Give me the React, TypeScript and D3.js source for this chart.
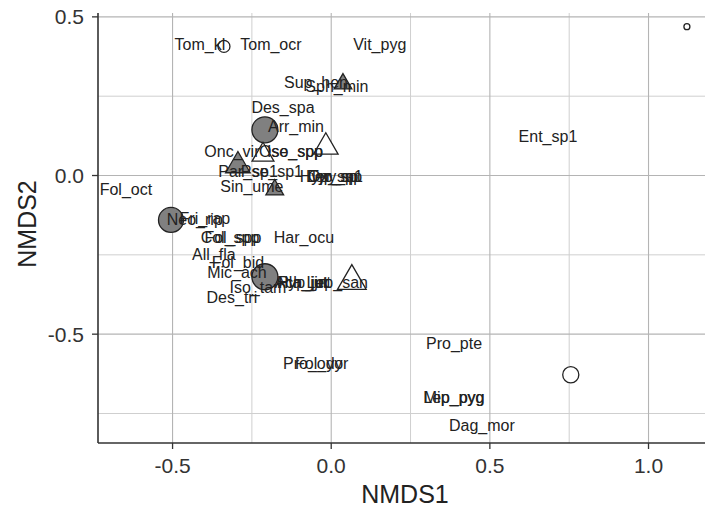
import React from "react";
import * as d3 from "d3";

// Species labels (NMDS species scores)
const labelNames = [
  "Tom_kl", "Tom_ocr", "Vit_pyg", "Sup_hen", "Sph_min", "Des_spa", "Arr_min", "Ent_sp1",
  "Onc_vir", "Iso_spp", "Ose_spp", "Par_sp1", "Pse_sp1", "Hyp_sp1", "Tyr_sp", "Oxy_sp", "Lep_sp",
  "Sin_ume", "Fol_oct", "Neo_rip", "Fri_rap", "Col_spp", "Fol_spp", "Har_ocu", "All_fla",
  "Fol_bid", "Mic_ach", "Ach_jut", "Hyp_jnt", "Pla_jut", "Lep_san", "Iso_tam", "Des_tri",
  "Pro_ody", "Fol_yor", "Pro_pte", "Mip_pyg", "Lep_pyg", "Dag_mor",
];
const labelX = [
  -0.414, -0.19, 0.153, -0.048, 0.018, -0.152, -0.111, 0.683,
  -0.313, -0.114, -0.127, -0.262, -0.187, 0.0, 0.006, 0.012, 0.003,
  -0.25, -0.647, -0.43, -0.398, -0.319, -0.31, -0.086, -0.37,
  -0.294, -0.297, -0.094, -0.086, -0.09, 0.019, -0.231, -0.313,
  -0.058, -0.03, 0.387, 0.387, 0.387, 0.475,
];
const labelY = [
  0.412, 0.412, 0.412, 0.292, 0.28, 0.213, 0.153, 0.122,
  0.075, 0.075, 0.075, 0.012, 0.012, -0.004, -0.004, -0.004, -0.004,
  -0.036, -0.045, -0.14, -0.137, -0.194, -0.194, -0.194, -0.25,
  -0.275, -0.307, -0.338, -0.338, -0.338, -0.338, -0.354, -0.386,
  -0.591, -0.591, -0.528, -0.7, -0.7, -0.789,
];

// Site scores
const siteX = [1.121, -0.338, 0.037, -0.209, -0.017, -0.294, -0.215, -0.178, -0.505, -0.209, 0.065, 0.755];
const siteY = [0.469, 0.407, 0.289, 0.144, 0.09, 0.031, 0.065, -0.045, -0.14, -0.319, -0.333, -0.628];
const siteSize = [2.3, 4.6, 6.5, 10, 9, 9, 8, 6.5, 9.6, 10, 10.5, 6.2];
const siteShape = ["circle", "circle", "triangle", "circle", "triangle", "triangle", "triangle", "triangle", "circle", "circle", "triangle", "circle"];
const siteGroup = ["open", "open", "grey", "grey", "open", "grey", "open", "grey", "grey", "grey", "open", "open"];

const xTicks = [-0.5, 0.0, 0.5, 1.0];
const yTicks = [0.5, 0.0, -0.5];
const xMinor = [-0.25, 0.25, 0.75];
const yMinor = [0.25, -0.25, -0.75];

const W = 705;
const H = 508;
const m = { left: 98, top: 13, right: 712, bottom: 443 };

export default function App() {
  const x = d3.scaleLinear().domain([-0.735, 1.2]).range([m.left, m.left + (1.2 + 0.735) * 317.3]);
  const y = d3.scaleLinear().domain([-0.843, 0.5]).range([m.bottom, m.bottom - (0.5 + 0.843) * 317.3]);
  const r = d3.scaleLinear().domain([0, 10]).range([0, 13]);
  const tri = (s: number) => {
    const side = r(s) * 2.1;
    return d3.symbol().type(d3.symbolTriangle).size((side * side * Math.sqrt(3)) / 4)()!;
  };
  const font = "'Liberation Sans', Arial, sans-serif";
  const axisCol = "#333";

  return (
    <svg width={W} height={H} style={{ position: "absolute", left: 0, top: 0, display: "block", background: "#fff" }}>
      <defs>
        <clipPath id="panel">
          <rect x={m.left} y={m.top} width={m.right - m.left} height={m.bottom - m.top} />
        </clipPath>
      </defs>
      <g clipPath="url(#panel)">
        {xMinor.map((v) => (
          <line key={"xm" + v} x1={x(v)} x2={x(v)} y1={m.top} y2={m.bottom} stroke="#cfcfcf" strokeWidth={1} />
        ))}
        {yMinor.map((v) => (
          <line key={"ym" + v} y1={y(v)} y2={y(v)} x1={m.left} x2={m.right} stroke="#cfcfcf" strokeWidth={1} />
        ))}
        {xTicks.map((v) => (
          <line key={"xg" + v} x1={x(v)} x2={x(v)} y1={m.top} y2={m.bottom} stroke="#b4b4b4" strokeWidth={1.1} />
        ))}
        {yTicks.map((v) => (
          <line key={"yg" + v} y1={y(v)} y2={y(v)} x1={m.left} x2={m.right} stroke="#b4b4b4" strokeWidth={1.1} />
        ))}
        {siteX.map((sx, i) => {
          const fill = siteGroup[i] === "grey" ? "#808080" : "#ffffff";
          if (siteShape[i] === "circle") {
            return (
              <circle key={"s" + i} cx={x(sx)} cy={y(siteY[i])} r={r(siteSize[i])} fill={fill} stroke="#222" strokeWidth={1.3} />
            );
          }
          return (
            <path key={"s" + i} d={tri(siteSize[i])} transform={`translate(${x(sx)},${y(siteY[i])})`} fill={fill} stroke="#222" strokeWidth={1.3} />
          );
        })}
        {labelNames.map((n, i) => (
          <text key={"l" + i} x={x(labelX[i])} y={y(labelY[i])} textAnchor="middle" dominantBaseline="central" fontFamily={font} fontSize={16} fill="#222">
            {n}
          </text>
        ))}
      </g>
      {/* axes */}
      <line x1={m.left} x2={m.left} y1={m.top} y2={m.bottom} stroke={axisCol} strokeWidth={1.6} />
      <line x1={m.left} x2={W} y1={m.bottom} y2={m.bottom} stroke={axisCol} strokeWidth={1.6} />
      {yTicks.map((v) => (
        <g key={"yt" + v}>
          <line x1={m.left - 6} x2={m.left} y1={y(v)} y2={y(v)} stroke={axisCol} strokeWidth={1.3} />
          <text x={m.left - 14} y={y(v)} textAnchor="end" dominantBaseline="central" fontFamily={font} fontSize={21} fill="#333">
            {d3.format(".1f")(v).replace("−", "-")}
          </text>
        </g>
      ))}
      {xTicks.map((v) => (
        <g key={"xt" + v}>
          <line x1={x(v)} x2={x(v)} y1={m.bottom} y2={m.bottom + 6} stroke={axisCol} strokeWidth={1.3} />
          <text x={x(v)} y={m.bottom + 22} textAnchor="middle" dominantBaseline="central" fontFamily={font} fontSize={21} fill="#333">
            {d3.format(".1f")(v).replace("−", "-")}
          </text>
        </g>
      ))}
      <text x={405} y={494} textAnchor="middle" dominantBaseline="central" fontFamily={font} fontSize={25} fill="#222">
        NMDS1
      </text>
      <text transform="translate(27,224) rotate(-90)" textAnchor="middle" dominantBaseline="central" fontFamily={font} fontSize={25} fill="#222">
        NMDS2
      </text>
    </svg>
  );
}
